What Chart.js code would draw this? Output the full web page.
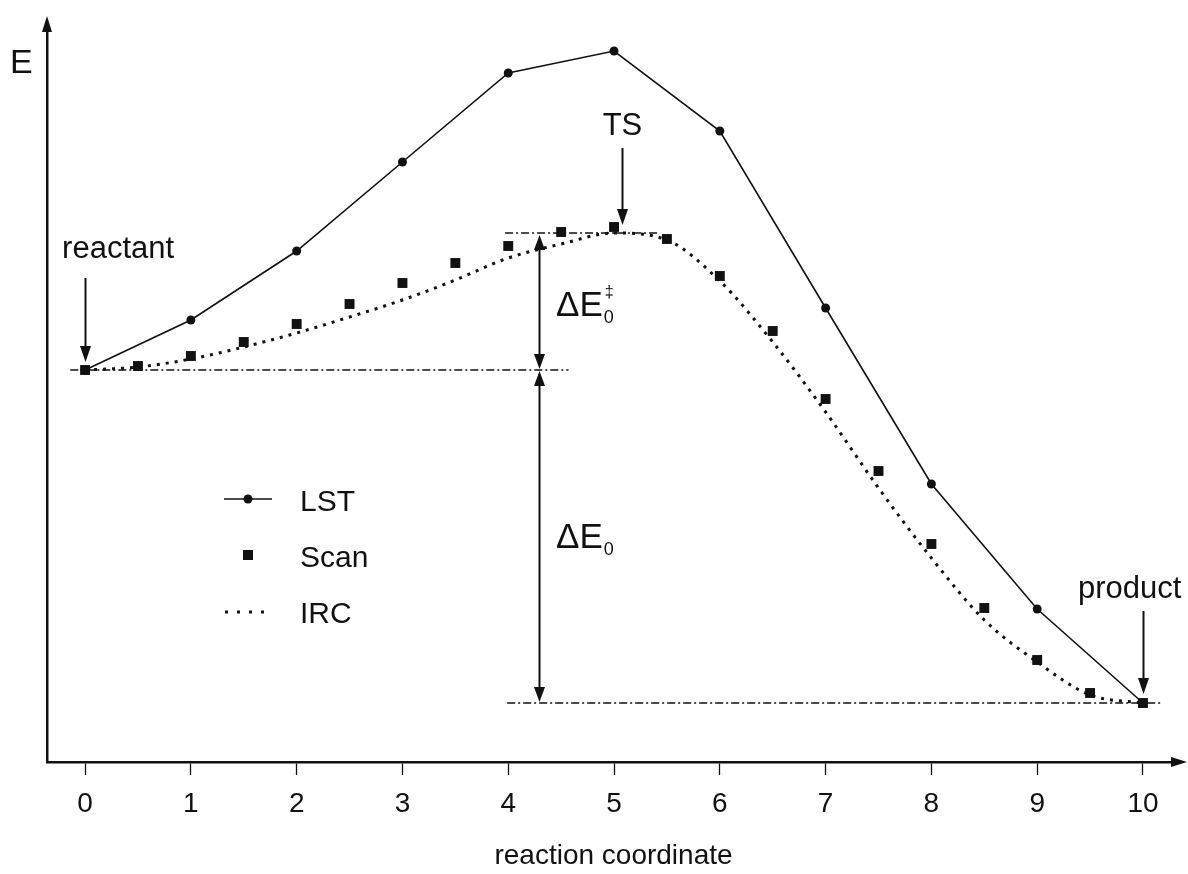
<!DOCTYPE html>
<html>
<head>
<meta charset="utf-8">
<script src="https://cdn.jsdelivr.net/npm/chart.js@4.4.1/dist/chart.umd.min.js"></script>
<style>
  html, body { margin: 0; padding: 0; background: #fff; }
  #wrap { width: 1188px; height: 874px; position: relative; }
</style>
</head>
<body>
<div id="wrap"><canvas id="energyChart"></canvas></div>
<script>
// values (energy in arbitrary units, product = 0)
const lstX = [0, 1, 2, 3, 4, 5, 6, 7, 8, 9, 10];
const lstE = [33.3, 38.3, 45.2, 54.1, 63.0, 65.2, 57.2, 39.5, 21.9, 9.4, 0];

const scanX = [0, 0.5, 1, 1.5, 2, 2.5, 3, 3.5, 4, 4.5, 5, 5.5, 6, 6.5, 7, 7.5, 8, 8.5, 9, 9.5, 10];
const scanE = [33.3, 33.7, 34.7, 36.1, 37.9, 39.9, 42.0, 44.0, 45.7, 47.1, 47.6, 46.4, 42.7, 37.2, 30.4, 23.2, 15.9, 9.5, 4.3, 1.0, 0];

const ircX = [0, 0.5, 1, 1.5, 2, 2.5, 3, 3.5, 4, 4.5, 5, 5.5, 6, 6.5, 7, 7.5, 8, 8.5, 9, 9.5, 10];
const ircE = [33.3, 33.6, 34.4, 35.6, 37.0, 38.6, 40.3, 42.3, 44.5, 45.9, 47.0, 46.3, 42.2, 36.1, 29.1, 21.5, 14.5, 8.3, 4.1, 0.8, 0];

const tickValues = [0, 1, 2, 3, 4, 5, 6, 7, 8, 9, 10];
const tickLabels = ['0', '1', '2', '3', '4', '5', '6', '7', '8', '9', '10'];
const seriesNames = ['LST', 'Scan', 'IRC'];

const FONT = "'Liberation Sans', Arial, Helvetica, sans-serif";
const ink = '#111';

function toPoints(xs, ys) {
    return xs.map((x, i) => ({ x: x, y: ys[i] }));
}

// filled triangle, tip at (x,y)
function head(ctx, x, y, dir, w, l) {
    ctx.beginPath();
    ctx.moveTo(x, y);
    if (dir === 'down') { ctx.lineTo(x - w / 2, y - l); ctx.lineTo(x + w / 2, y - l); }
    if (dir === 'up') { ctx.lineTo(x - w / 2, y + l); ctx.lineTo(x + w / 2, y + l); }
    if (dir === 'right') { ctx.lineTo(x - l, y - w / 2); ctx.lineTo(x - l, y + w / 2); }
    ctx.closePath();
    ctx.fill();
}

function vline(ctx, x, y1, y2) {
    ctx.beginPath();
    ctx.moveTo(x, y1);
    ctx.lineTo(x, y2);
    ctx.stroke();
}

function deltaLabel(ctx, x, base, sup) {
    ctx.textAlign = 'left';
    ctx.textBaseline = 'alphabetic';
    ctx.font = '35px ' + FONT;
    const t = '\u0394E';
    ctx.fillText(t, x, base);
    const w = ctx.measureText(t).width;
    ctx.font = '18px ' + FONT;
    ctx.fillText('0', x + w + 1, base + 7);
    if (sup) {
        ctx.font = '16px ' + FONT;
        ctx.fillText(sup, x + w + 2, base - 19);
    }
}

const extras = {
    id: 'extras',
    afterDraw(chart) {
        const ctx = chart.ctx;
        const area = chart.chartArea;
        const px = v => chart.scales.x.getPixelForValue(v);
        const py = v => chart.scales.y.getPixelForValue(v);

        ctx.save();
        ctx.fillStyle = ink;
        ctx.strokeStyle = ink;

        // axis arrows
        head(ctx, area.left, 16, 'up', 10, 16);
        head(ctx, 1187, area.bottom, 'right', 10, 16);

        ctx.font = '34px ' + FONT;
        ctx.textAlign = 'left';
        ctx.textBaseline = 'alphabetic';
        ctx.fillText('E', 10, 73);

        // energy levels
        const lvR = ircE[0];
        const lvT = Math.max(...ircE);
        const lvP = ircE[ircE.length - 1];
        ctx.lineWidth = 1.6;
        ctx.setLineDash([8, 3, 2, 3]);
        [[-0.14, 4.57, lvR], [3.97, 5.43, lvT], [3.99, 10.19, lvP]].forEach(l => {
            ctx.beginPath();
            ctx.moveTo(px(l[0]), py(l[2]));
            ctx.lineTo(px(l[1]), py(l[2]));
            ctx.stroke();
        });
        ctx.setLineDash([]);

        // double arrows for the barrier and reaction energy
        const xa = Math.round(px(4.29)) + 0.5;
        ctx.lineWidth = 2;
        vline(ctx, xa, py(lvT) + 8, py(lvR) - 8);
        vline(ctx, xa, py(lvR) + 8, py(lvP) - 8);
        head(ctx, xa, py(lvT) + 2, 'up', 11, 15);
        head(ctx, xa, py(lvR) - 1, 'down', 11, 15);
        head(ctx, xa, py(lvR) + 1, 'up', 11, 15);
        head(ctx, xa, py(lvP) - 1, 'down', 11, 15);

        // pointer arrows
        const ptr = (x, tip, len) => {
            const xx = Math.round(px(x)) + 0.5;
            vline(ctx, xx, tip - len, tip - 10);
            head(ctx, xx, tip, 'down', 11, 16);
        };
        ptr(0, py(lvR) - 8, 84);
        ptr(5.08, py(lvT) - 8, 77);
        ptr(10, py(lvP) - 9, 83);

        ctx.font = '31px ' + FONT;
        ctx.textBaseline = 'alphabetic';
        ctx.textAlign = 'left';
        ctx.fillText('reactant', px(0) - 23, py(lvR) - 112);
        ctx.fillText('product', px(10) - 65, py(lvP) - 105);
        ctx.textAlign = 'center';
        ctx.fillText('TS', px(5.08), py(lvT) - 98);

        deltaLabel(ctx, 556, 316, '\u2021');
        deltaLabel(ctx, 556, 548, null);

        // legend
        ctx.lineWidth = 1.5;
        ctx.beginPath();
        ctx.moveTo(224, 499);
        ctx.lineTo(272, 499);
        ctx.stroke();
        ctx.beginPath();
        ctx.arc(248, 499, 4.5, 0, Math.PI * 2);
        ctx.fill();
        ctx.fillRect(243, 550, 10, 10);
        ctx.lineWidth = 3;
        ctx.setLineDash([3, 9]);
        ctx.beginPath();
        ctx.moveTo(225, 612);
        ctx.lineTo(268, 612);
        ctx.stroke();
        ctx.setLineDash([]);

        ctx.font = '30px ' + FONT;
        ctx.textAlign = 'left';
        ctx.fillText(seriesNames[0], 300, 511);
        ctx.fillText(seriesNames[1], 300, 567);
        ctx.fillText(seriesNames[2], 300, 623);

        ctx.restore();
    }
};

new Chart(document.getElementById('energyChart'), {
    type: 'scatter',
    data: {
        datasets: [
            {
                label: seriesNames[2],
                data: toPoints(ircX, ircE),
                showLine: true,
                borderColor: ink,
                borderWidth: 3,
                borderDash: [3, 6],
                borderCapStyle: 'butt',
                cubicInterpolationMode: 'monotone',
                pointRadius: 0
            },
            {
                label: seriesNames[0],
                data: toPoints(lstX, lstE),
                showLine: true,
                borderColor: ink,
                borderWidth: 1.6,
                backgroundColor: ink,
                pointRadius: 4.5,
                pointBorderWidth: 0
            },
            {
                label: seriesNames[1],
                data: toPoints(scanX, scanE),
                showLine: false,
                backgroundColor: ink,
                borderColor: ink,
                pointStyle: 'rect',
                pointRadius: 7,
                pointBorderWidth: 0
            }
        ]
    },
    options: {
        responsive: true,
        maintainAspectRatio: false,
        animation: false,
        events: [],
        layout: { padding: { top: 25, right: 8, left: 0, bottom: 0 } },
        plugins: { legend: { display: false }, tooltip: { enabled: false } },
        scales: {
            x: {
                type: 'linear',
                min: -0.36,
                max: 10.35,
                afterFit: s => { s.height = 112; },
                afterBuildTicks: s => { s.ticks = tickValues.map(v => ({ value: v })); },
                border: { display: true, color: ink, width: 2.5 },
                grid: { display: true, drawOnChartArea: false, drawTicks: true, tickLength: 13, tickWidth: 1.3, tickColor: ink, color: ink },
                ticks: {
                    color: ink,
                    padding: 12,
                    maxRotation: 0,
                    font: { family: FONT, size: 28 },
                    callback: v => tickLabels[tickValues.indexOf(v)]
                },
                title: {
                    display: true,
                    text: 'reaction coordinate',
                    color: ink,
                    font: { family: FONT, size: 28 },
                    padding: { top: 0, bottom: 1 }
                }
            },
            y: {
                type: 'linear',
                min: -5.9,
                max: 67.8,
                afterFit: s => { s.width = 47; },
                border: { display: true, color: ink, width: 2.5 },
                grid: { display: false },
                ticks: { display: false }
            }
        }
    },
    plugins: [extras]
});
</script>
</body>
</html>
